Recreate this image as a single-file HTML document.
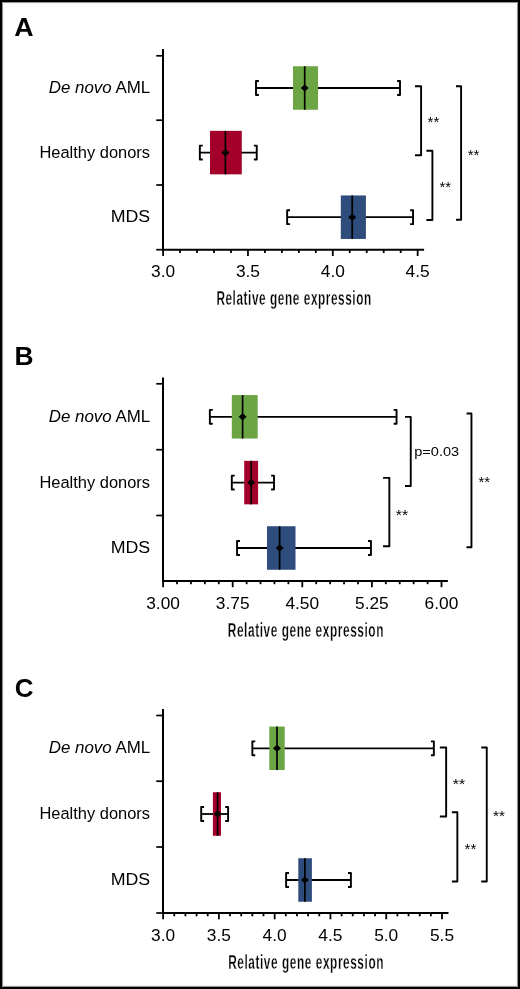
<!DOCTYPE html>
<html><head><meta charset="utf-8"><style>
html,body{margin:0;padding:0;background:#fff;}
#fig{position:relative;width:516px;height:985px;border:2px solid #000;overflow:hidden;background:#fff;box-shadow:inset 0 0 0 1px #979797,inset 0 0 0 2px #f2f2f2;}
svg{position:absolute;left:-2px;top:-2px;will-change:transform;}
text{font-family:"Liberation Sans", sans-serif;fill:#000;}
</style></head><body>
<div id="fig">
<svg width="520" height="989" viewBox="0 0 520 989">
<text x="14.33" y="36.30" font-size="26.3" textLength="19.29" lengthAdjust="spacingAndGlyphs" xml:space="preserve"><tspan font-weight="bold">A</tspan></text>
<line x1="163.00" y1="49.05" x2="163.00" y2="250.70" stroke="#000" stroke-width="2" stroke-linecap="butt"/>
<line x1="156.25" y1="55.80" x2="163.00" y2="55.80" stroke="#000" stroke-width="1.7" stroke-linecap="butt"/>
<line x1="156.25" y1="120.20" x2="163.00" y2="120.20" stroke="#000" stroke-width="1.7" stroke-linecap="butt"/>
<line x1="156.25" y1="185.00" x2="163.00" y2="185.00" stroke="#000" stroke-width="1.7" stroke-linecap="butt"/>
<line x1="156.25" y1="249.70" x2="163.00" y2="249.70" stroke="#000" stroke-width="1.7" stroke-linecap="butt"/>
<line x1="162.00" y1="249.70" x2="424.10" y2="249.70" stroke="#000" stroke-width="2" stroke-linecap="butt"/>
<line x1="163.10" y1="249.70" x2="163.10" y2="256.00" stroke="#000" stroke-width="1.8" stroke-linecap="butt"/>
<line x1="180.07" y1="249.70" x2="180.07" y2="253.00" stroke="#000" stroke-width="1.8" stroke-linecap="butt"/>
<line x1="197.04" y1="249.70" x2="197.04" y2="253.00" stroke="#000" stroke-width="1.8" stroke-linecap="butt"/>
<line x1="214.01" y1="249.70" x2="214.01" y2="253.00" stroke="#000" stroke-width="1.8" stroke-linecap="butt"/>
<line x1="230.98" y1="249.70" x2="230.98" y2="253.00" stroke="#000" stroke-width="1.8" stroke-linecap="butt"/>
<line x1="247.95" y1="249.70" x2="247.95" y2="256.00" stroke="#000" stroke-width="1.8" stroke-linecap="butt"/>
<line x1="264.92" y1="249.70" x2="264.92" y2="253.00" stroke="#000" stroke-width="1.8" stroke-linecap="butt"/>
<line x1="281.89" y1="249.70" x2="281.89" y2="253.00" stroke="#000" stroke-width="1.8" stroke-linecap="butt"/>
<line x1="298.86" y1="249.70" x2="298.86" y2="253.00" stroke="#000" stroke-width="1.8" stroke-linecap="butt"/>
<line x1="315.83" y1="249.70" x2="315.83" y2="253.00" stroke="#000" stroke-width="1.8" stroke-linecap="butt"/>
<line x1="332.80" y1="249.70" x2="332.80" y2="256.00" stroke="#000" stroke-width="1.8" stroke-linecap="butt"/>
<line x1="349.77" y1="249.70" x2="349.77" y2="253.00" stroke="#000" stroke-width="1.8" stroke-linecap="butt"/>
<line x1="366.74" y1="249.70" x2="366.74" y2="253.00" stroke="#000" stroke-width="1.8" stroke-linecap="butt"/>
<line x1="383.71" y1="249.70" x2="383.71" y2="253.00" stroke="#000" stroke-width="1.8" stroke-linecap="butt"/>
<line x1="400.68" y1="249.70" x2="400.68" y2="253.00" stroke="#000" stroke-width="1.8" stroke-linecap="butt"/>
<line x1="417.65" y1="249.70" x2="417.65" y2="256.00" stroke="#000" stroke-width="1.8" stroke-linecap="butt"/>
<text x="151.05" y="277.10" font-size="16.2" textLength="24.10" lengthAdjust="spacingAndGlyphs">3.0</text>
<text x="235.90" y="277.10" font-size="16.2" textLength="24.10" lengthAdjust="spacingAndGlyphs">3.5</text>
<text x="320.75" y="277.10" font-size="16.2" textLength="24.10" lengthAdjust="spacingAndGlyphs">4.0</text>
<text x="405.60" y="277.10" font-size="16.2" textLength="24.10" lengthAdjust="spacingAndGlyphs">4.5</text>
<text x="48.69" y="93.00" font-size="16.8" textLength="101.58" lengthAdjust="spacingAndGlyphs" xml:space="preserve"><tspan font-style="italic">De novo</tspan><tspan> AML</tspan></text>
<text x="39.44" y="157.60" font-size="16.8" textLength="110.61" lengthAdjust="spacingAndGlyphs" xml:space="preserve"><tspan>Healthy donors</tspan></text>
<text x="110.73" y="222.20" font-size="16.8" textLength="39.51" lengthAdjust="spacingAndGlyphs" xml:space="preserve"><tspan>MDS</tspan></text>
<line x1="256.00" y1="88.00" x2="400.00" y2="88.00" stroke="#000" stroke-width="1.8" stroke-linecap="butt"/>
<path d="M258.90,81.05 H256.00 V94.95 H258.90" fill="none" stroke="#000" stroke-width="1.9" stroke-linejoin="round"/>
<path d="M397.10,81.05 H400.00 V94.95 H397.10" fill="none" stroke="#000" stroke-width="1.9" stroke-linejoin="round"/>
<rect x="293.00" y="66.25" width="25.00" height="43.50" fill="#6ca644"/>
<line x1="304.70" y1="66.25" x2="304.70" y2="109.75" stroke="#000" stroke-width="1.7" stroke-linecap="butt"/>
<polygon points="300.70,88.00 304.70,84.40 308.70,88.00 304.70,91.60" fill="#000"/>
<line x1="199.85" y1="152.60" x2="256.75" y2="152.60" stroke="#000" stroke-width="1.8" stroke-linecap="butt"/>
<path d="M202.75,145.65 H199.85 V159.55 H202.75" fill="none" stroke="#000" stroke-width="1.9" stroke-linejoin="round"/>
<path d="M253.85,145.65 H256.75 V159.55 H253.85" fill="none" stroke="#000" stroke-width="1.9" stroke-linejoin="round"/>
<rect x="210.00" y="130.85" width="31.80" height="43.50" fill="#a2002a"/>
<line x1="225.40" y1="130.85" x2="225.40" y2="174.35" stroke="#000" stroke-width="1.7" stroke-linecap="butt"/>
<polygon points="221.40,152.60 225.40,149.00 229.40,152.60 225.40,156.20" fill="#000"/>
<line x1="287.15" y1="217.20" x2="413.05" y2="217.20" stroke="#000" stroke-width="1.8" stroke-linecap="butt"/>
<path d="M290.05,210.25 H287.15 V224.15 H290.05" fill="none" stroke="#000" stroke-width="1.9" stroke-linejoin="round"/>
<path d="M410.15,210.25 H413.05 V224.15 H410.15" fill="none" stroke="#000" stroke-width="1.9" stroke-linejoin="round"/>
<rect x="340.80" y="195.45" width="25.10" height="43.50" fill="#2e4c7c"/>
<line x1="352.20" y1="195.45" x2="352.20" y2="238.95" stroke="#000" stroke-width="1.7" stroke-linecap="butt"/>
<polygon points="348.20,217.20 352.20,213.60 356.20,217.20 352.20,220.80" fill="#000"/>
<path d="M415.00,86.25 H421.10 V155.20 H415.00" fill="none" stroke="#000" stroke-width="1.9" stroke-linejoin="round"/>
<text x="427.54" y="127.43" font-size="14.5" textLength="11.70" lengthAdjust="spacingAndGlyphs" xml:space="preserve"><tspan>**</tspan></text>
<path d="M426.40,150.80 H432.40 V220.00 H426.40" fill="none" stroke="#000" stroke-width="1.9" stroke-linejoin="round"/>
<text x="439.54" y="192.23" font-size="14.5" textLength="11.60" lengthAdjust="spacingAndGlyphs" xml:space="preserve"><tspan>**</tspan></text>
<path d="M456.00,86.25 H461.10 V219.80 H456.00" fill="none" stroke="#000" stroke-width="1.9" stroke-linejoin="round"/>
<text x="467.74" y="160.03" font-size="14.5" textLength="11.70" lengthAdjust="spacingAndGlyphs" xml:space="preserve"><tspan>**</tspan></text>
<text x="216.40" y="305.40" font-size="20.6" textLength="155.39" lengthAdjust="spacingAndGlyphs" xml:space="preserve" letter-spacing="1" stroke="#fff" stroke-width="0.3"><tspan font-weight="bold">Relative gene expression</tspan></text>
<text x="14.42" y="364.80" font-size="26.3" textLength="19.06" lengthAdjust="spacingAndGlyphs" xml:space="preserve"><tspan font-weight="bold">B</tspan></text>
<line x1="163.00" y1="377.40" x2="163.00" y2="581.90" stroke="#000" stroke-width="2" stroke-linecap="butt"/>
<line x1="156.25" y1="383.80" x2="163.00" y2="383.80" stroke="#000" stroke-width="1.7" stroke-linecap="butt"/>
<line x1="156.25" y1="449.70" x2="163.00" y2="449.70" stroke="#000" stroke-width="1.7" stroke-linecap="butt"/>
<line x1="156.25" y1="515.50" x2="163.00" y2="515.50" stroke="#000" stroke-width="1.7" stroke-linecap="butt"/>
<line x1="162.00" y1="580.90" x2="447.90" y2="580.90" stroke="#000" stroke-width="2" stroke-linecap="butt"/>
<line x1="163.10" y1="580.90" x2="163.10" y2="587.20" stroke="#000" stroke-width="1.8" stroke-linecap="butt"/>
<line x1="177.02" y1="580.90" x2="177.02" y2="584.20" stroke="#000" stroke-width="1.8" stroke-linecap="butt"/>
<line x1="190.94" y1="580.90" x2="190.94" y2="584.20" stroke="#000" stroke-width="1.8" stroke-linecap="butt"/>
<line x1="204.86" y1="580.90" x2="204.86" y2="584.20" stroke="#000" stroke-width="1.8" stroke-linecap="butt"/>
<line x1="218.78" y1="580.90" x2="218.78" y2="584.20" stroke="#000" stroke-width="1.8" stroke-linecap="butt"/>
<line x1="232.70" y1="580.90" x2="232.70" y2="587.20" stroke="#000" stroke-width="1.8" stroke-linecap="butt"/>
<line x1="246.62" y1="580.90" x2="246.62" y2="584.20" stroke="#000" stroke-width="1.8" stroke-linecap="butt"/>
<line x1="260.54" y1="580.90" x2="260.54" y2="584.20" stroke="#000" stroke-width="1.8" stroke-linecap="butt"/>
<line x1="274.46" y1="580.90" x2="274.46" y2="584.20" stroke="#000" stroke-width="1.8" stroke-linecap="butt"/>
<line x1="288.38" y1="580.90" x2="288.38" y2="584.20" stroke="#000" stroke-width="1.8" stroke-linecap="butt"/>
<line x1="302.30" y1="580.90" x2="302.30" y2="587.20" stroke="#000" stroke-width="1.8" stroke-linecap="butt"/>
<line x1="316.22" y1="580.90" x2="316.22" y2="584.20" stroke="#000" stroke-width="1.8" stroke-linecap="butt"/>
<line x1="330.14" y1="580.90" x2="330.14" y2="584.20" stroke="#000" stroke-width="1.8" stroke-linecap="butt"/>
<line x1="344.06" y1="580.90" x2="344.06" y2="584.20" stroke="#000" stroke-width="1.8" stroke-linecap="butt"/>
<line x1="357.98" y1="580.90" x2="357.98" y2="584.20" stroke="#000" stroke-width="1.8" stroke-linecap="butt"/>
<line x1="371.90" y1="580.90" x2="371.90" y2="587.20" stroke="#000" stroke-width="1.8" stroke-linecap="butt"/>
<line x1="385.82" y1="580.90" x2="385.82" y2="584.20" stroke="#000" stroke-width="1.8" stroke-linecap="butt"/>
<line x1="399.74" y1="580.90" x2="399.74" y2="584.20" stroke="#000" stroke-width="1.8" stroke-linecap="butt"/>
<line x1="413.66" y1="580.90" x2="413.66" y2="584.20" stroke="#000" stroke-width="1.8" stroke-linecap="butt"/>
<line x1="427.58" y1="580.90" x2="427.58" y2="584.20" stroke="#000" stroke-width="1.8" stroke-linecap="butt"/>
<line x1="441.50" y1="580.90" x2="441.50" y2="587.20" stroke="#000" stroke-width="1.8" stroke-linecap="butt"/>
<text x="146.23" y="609.00" font-size="16.2" textLength="33.74" lengthAdjust="spacingAndGlyphs">3.00</text>
<text x="215.83" y="609.00" font-size="16.2" textLength="33.74" lengthAdjust="spacingAndGlyphs">3.75</text>
<text x="285.43" y="609.00" font-size="16.2" textLength="33.74" lengthAdjust="spacingAndGlyphs">4.50</text>
<text x="355.03" y="609.00" font-size="16.2" textLength="33.74" lengthAdjust="spacingAndGlyphs">5.25</text>
<text x="424.63" y="609.00" font-size="16.2" textLength="33.74" lengthAdjust="spacingAndGlyphs">6.00</text>
<text x="48.69" y="421.80" font-size="16.8" textLength="101.58" lengthAdjust="spacingAndGlyphs" xml:space="preserve"><tspan font-style="italic">De novo</tspan><tspan> AML</tspan></text>
<text x="39.44" y="487.60" font-size="16.8" textLength="110.61" lengthAdjust="spacingAndGlyphs" xml:space="preserve"><tspan>Healthy donors</tspan></text>
<text x="110.73" y="553.00" font-size="16.8" textLength="39.51" lengthAdjust="spacingAndGlyphs" xml:space="preserve"><tspan>MDS</tspan></text>
<line x1="209.85" y1="416.80" x2="396.55" y2="416.80" stroke="#000" stroke-width="1.8" stroke-linecap="butt"/>
<path d="M212.75,409.85 H209.85 V423.75 H212.75" fill="none" stroke="#000" stroke-width="1.9" stroke-linejoin="round"/>
<path d="M393.65,409.85 H396.55 V423.75 H393.65" fill="none" stroke="#000" stroke-width="1.9" stroke-linejoin="round"/>
<rect x="231.80" y="395.05" width="25.90" height="43.50" fill="#6ca644"/>
<line x1="242.60" y1="395.05" x2="242.60" y2="438.55" stroke="#000" stroke-width="1.7" stroke-linecap="butt"/>
<polygon points="238.60,416.80 242.60,413.20 246.60,416.80 242.60,420.40" fill="#000"/>
<line x1="231.80" y1="482.60" x2="274.00" y2="482.60" stroke="#000" stroke-width="1.8" stroke-linecap="butt"/>
<path d="M234.70,475.65 H231.80 V489.55 H234.70" fill="none" stroke="#000" stroke-width="1.9" stroke-linejoin="round"/>
<path d="M271.10,475.65 H274.00 V489.55 H271.10" fill="none" stroke="#000" stroke-width="1.9" stroke-linejoin="round"/>
<rect x="244.20" y="460.85" width="13.90" height="43.50" fill="#a2002a"/>
<line x1="251.20" y1="460.85" x2="251.20" y2="504.35" stroke="#000" stroke-width="1.7" stroke-linecap="butt"/>
<polygon points="247.20,482.60 251.20,479.00 255.20,482.60 251.20,486.20" fill="#000"/>
<line x1="237.05" y1="548.00" x2="370.95" y2="548.00" stroke="#000" stroke-width="1.8" stroke-linecap="butt"/>
<path d="M239.95,541.05 H237.05 V554.95 H239.95" fill="none" stroke="#000" stroke-width="1.9" stroke-linejoin="round"/>
<path d="M368.05,541.05 H370.95 V554.95 H368.05" fill="none" stroke="#000" stroke-width="1.9" stroke-linejoin="round"/>
<rect x="267.00" y="526.25" width="28.50" height="43.50" fill="#2e4c7c"/>
<line x1="279.60" y1="526.25" x2="279.60" y2="569.75" stroke="#000" stroke-width="1.7" stroke-linecap="butt"/>
<polygon points="275.60,548.00 279.60,544.40 283.60,548.00 279.60,551.60" fill="#000"/>
<path d="M405.00,416.90 H410.75 V486.00 H405.00" fill="none" stroke="#000" stroke-width="1.9" stroke-linejoin="round"/>
<text x="414.25" y="456.20" font-size="13.2" textLength="44.89" lengthAdjust="spacingAndGlyphs" xml:space="preserve"><tspan>p=0.03</tspan></text>
<path d="M383.05,477.90 H389.35 V546.30 H383.05" fill="none" stroke="#000" stroke-width="1.9" stroke-linejoin="round"/>
<text x="395.72" y="519.83" font-size="14.5" textLength="12.33" lengthAdjust="spacingAndGlyphs" xml:space="preserve"><tspan>**</tspan></text>
<path d="M466.55,413.50 H471.45 V547.30 H466.55" fill="none" stroke="#000" stroke-width="1.9" stroke-linejoin="round"/>
<text x="478.54" y="487.23" font-size="14.5" textLength="11.49" lengthAdjust="spacingAndGlyphs" xml:space="preserve"><tspan>**</tspan></text>
<text x="227.80" y="636.80" font-size="20.6" textLength="156.20" lengthAdjust="spacingAndGlyphs" xml:space="preserve" letter-spacing="1" stroke="#fff" stroke-width="0.3"><tspan font-weight="bold">Relative gene expression</tspan></text>
<text x="14.86" y="696.60" font-size="26.3" textLength="18.74" lengthAdjust="spacingAndGlyphs" xml:space="preserve"><tspan font-weight="bold">C</tspan></text>
<line x1="163.00" y1="709.10" x2="163.00" y2="914.00" stroke="#000" stroke-width="2" stroke-linecap="butt"/>
<line x1="156.25" y1="715.50" x2="163.00" y2="715.50" stroke="#000" stroke-width="1.7" stroke-linecap="butt"/>
<line x1="156.25" y1="781.20" x2="163.00" y2="781.20" stroke="#000" stroke-width="1.7" stroke-linecap="butt"/>
<line x1="156.25" y1="847.00" x2="163.00" y2="847.00" stroke="#000" stroke-width="1.7" stroke-linecap="butt"/>
<line x1="156.25" y1="913.00" x2="163.00" y2="913.00" stroke="#000" stroke-width="1.7" stroke-linecap="butt"/>
<line x1="162.00" y1="913.00" x2="448.50" y2="913.00" stroke="#000" stroke-width="2" stroke-linecap="butt"/>
<line x1="163.10" y1="913.00" x2="163.10" y2="919.30" stroke="#000" stroke-width="1.8" stroke-linecap="butt"/>
<line x1="174.26" y1="913.00" x2="174.26" y2="916.30" stroke="#000" stroke-width="1.8" stroke-linecap="butt"/>
<line x1="185.41" y1="913.00" x2="185.41" y2="916.30" stroke="#000" stroke-width="1.8" stroke-linecap="butt"/>
<line x1="196.57" y1="913.00" x2="196.57" y2="916.30" stroke="#000" stroke-width="1.8" stroke-linecap="butt"/>
<line x1="207.72" y1="913.00" x2="207.72" y2="916.30" stroke="#000" stroke-width="1.8" stroke-linecap="butt"/>
<line x1="218.88" y1="913.00" x2="218.88" y2="919.30" stroke="#000" stroke-width="1.8" stroke-linecap="butt"/>
<line x1="230.04" y1="913.00" x2="230.04" y2="916.30" stroke="#000" stroke-width="1.8" stroke-linecap="butt"/>
<line x1="241.19" y1="913.00" x2="241.19" y2="916.30" stroke="#000" stroke-width="1.8" stroke-linecap="butt"/>
<line x1="252.35" y1="913.00" x2="252.35" y2="916.30" stroke="#000" stroke-width="1.8" stroke-linecap="butt"/>
<line x1="263.50" y1="913.00" x2="263.50" y2="916.30" stroke="#000" stroke-width="1.8" stroke-linecap="butt"/>
<line x1="274.66" y1="913.00" x2="274.66" y2="919.30" stroke="#000" stroke-width="1.8" stroke-linecap="butt"/>
<line x1="285.82" y1="913.00" x2="285.82" y2="916.30" stroke="#000" stroke-width="1.8" stroke-linecap="butt"/>
<line x1="296.97" y1="913.00" x2="296.97" y2="916.30" stroke="#000" stroke-width="1.8" stroke-linecap="butt"/>
<line x1="308.13" y1="913.00" x2="308.13" y2="916.30" stroke="#000" stroke-width="1.8" stroke-linecap="butt"/>
<line x1="319.28" y1="913.00" x2="319.28" y2="916.30" stroke="#000" stroke-width="1.8" stroke-linecap="butt"/>
<line x1="330.44" y1="913.00" x2="330.44" y2="919.30" stroke="#000" stroke-width="1.8" stroke-linecap="butt"/>
<line x1="341.60" y1="913.00" x2="341.60" y2="916.30" stroke="#000" stroke-width="1.8" stroke-linecap="butt"/>
<line x1="352.75" y1="913.00" x2="352.75" y2="916.30" stroke="#000" stroke-width="1.8" stroke-linecap="butt"/>
<line x1="363.91" y1="913.00" x2="363.91" y2="916.30" stroke="#000" stroke-width="1.8" stroke-linecap="butt"/>
<line x1="375.06" y1="913.00" x2="375.06" y2="916.30" stroke="#000" stroke-width="1.8" stroke-linecap="butt"/>
<line x1="386.22" y1="913.00" x2="386.22" y2="919.30" stroke="#000" stroke-width="1.8" stroke-linecap="butt"/>
<line x1="397.38" y1="913.00" x2="397.38" y2="916.30" stroke="#000" stroke-width="1.8" stroke-linecap="butt"/>
<line x1="408.53" y1="913.00" x2="408.53" y2="916.30" stroke="#000" stroke-width="1.8" stroke-linecap="butt"/>
<line x1="419.69" y1="913.00" x2="419.69" y2="916.30" stroke="#000" stroke-width="1.8" stroke-linecap="butt"/>
<line x1="430.84" y1="913.00" x2="430.84" y2="916.30" stroke="#000" stroke-width="1.8" stroke-linecap="butt"/>
<line x1="442.00" y1="913.00" x2="442.00" y2="919.30" stroke="#000" stroke-width="1.8" stroke-linecap="butt"/>
<text x="151.05" y="940.80" font-size="16.2" textLength="24.10" lengthAdjust="spacingAndGlyphs">3.0</text>
<text x="206.83" y="940.80" font-size="16.2" textLength="24.10" lengthAdjust="spacingAndGlyphs">3.5</text>
<text x="262.61" y="940.80" font-size="16.2" textLength="24.10" lengthAdjust="spacingAndGlyphs">4.0</text>
<text x="318.39" y="940.80" font-size="16.2" textLength="24.10" lengthAdjust="spacingAndGlyphs">4.5</text>
<text x="374.17" y="940.80" font-size="16.2" textLength="24.10" lengthAdjust="spacingAndGlyphs">5.0</text>
<text x="429.95" y="940.80" font-size="16.2" textLength="24.10" lengthAdjust="spacingAndGlyphs">5.5</text>
<text x="48.69" y="753.30" font-size="16.8" textLength="101.58" lengthAdjust="spacingAndGlyphs" xml:space="preserve"><tspan font-style="italic">De novo</tspan><tspan> AML</tspan></text>
<text x="39.44" y="819.00" font-size="16.8" textLength="110.61" lengthAdjust="spacingAndGlyphs" xml:space="preserve"><tspan>Healthy donors</tspan></text>
<text x="110.73" y="885.00" font-size="16.8" textLength="39.51" lengthAdjust="spacingAndGlyphs" xml:space="preserve"><tspan>MDS</tspan></text>
<line x1="252.35" y1="748.30" x2="433.85" y2="748.30" stroke="#000" stroke-width="1.8" stroke-linecap="butt"/>
<path d="M255.25,741.35 H252.35 V755.25 H255.25" fill="none" stroke="#000" stroke-width="1.9" stroke-linejoin="round"/>
<path d="M430.95,741.35 H433.85 V755.25 H430.95" fill="none" stroke="#000" stroke-width="1.9" stroke-linejoin="round"/>
<rect x="269.30" y="726.55" width="15.40" height="43.50" fill="#6ca644"/>
<line x1="277.00" y1="726.55" x2="277.00" y2="770.05" stroke="#000" stroke-width="1.7" stroke-linecap="butt"/>
<polygon points="273.00,748.30 277.00,744.70 281.00,748.30 277.00,751.90" fill="#000"/>
<line x1="201.20" y1="814.00" x2="228.10" y2="814.00" stroke="#000" stroke-width="1.8" stroke-linecap="butt"/>
<path d="M204.10,807.05 H201.20 V820.95 H204.10" fill="none" stroke="#000" stroke-width="1.9" stroke-linejoin="round"/>
<path d="M225.20,807.05 H228.10 V820.95 H225.20" fill="none" stroke="#000" stroke-width="1.9" stroke-linejoin="round"/>
<rect x="212.90" y="792.25" width="8.10" height="43.50" fill="#a2002a"/>
<line x1="217.60" y1="792.25" x2="217.60" y2="835.75" stroke="#000" stroke-width="1.7" stroke-linecap="butt"/>
<polygon points="213.60,814.00 217.60,810.40 221.60,814.00 217.60,817.60" fill="#000"/>
<line x1="286.10" y1="880.00" x2="350.90" y2="880.00" stroke="#000" stroke-width="1.8" stroke-linecap="butt"/>
<path d="M289.00,873.05 H286.10 V886.95 H289.00" fill="none" stroke="#000" stroke-width="1.9" stroke-linejoin="round"/>
<path d="M348.00,873.05 H350.90 V886.95 H348.00" fill="none" stroke="#000" stroke-width="1.9" stroke-linejoin="round"/>
<rect x="298.30" y="858.25" width="13.60" height="43.50" fill="#2e4c7c"/>
<line x1="304.90" y1="858.25" x2="304.90" y2="901.75" stroke="#000" stroke-width="1.7" stroke-linecap="butt"/>
<polygon points="300.90,880.00 304.90,876.40 308.90,880.00 304.90,883.60" fill="#000"/>
<path d="M439.85,747.50 H446.15 V816.50 H439.85" fill="none" stroke="#000" stroke-width="1.9" stroke-linejoin="round"/>
<text x="452.72" y="788.93" font-size="14.5" textLength="12.33" lengthAdjust="spacingAndGlyphs" xml:space="preserve"><tspan>**</tspan></text>
<path d="M451.85,812.30 H457.35 V881.50 H451.85" fill="none" stroke="#000" stroke-width="1.9" stroke-linejoin="round"/>
<text x="464.54" y="853.93" font-size="14.5" textLength="11.70" lengthAdjust="spacingAndGlyphs" xml:space="preserve"><tspan>**</tspan></text>
<path d="M481.25,747.50 H486.75 V881.50 H481.25" fill="none" stroke="#000" stroke-width="1.9" stroke-linejoin="round"/>
<text x="493.13" y="821.13" font-size="14.5" textLength="11.91" lengthAdjust="spacingAndGlyphs" xml:space="preserve"><tspan>**</tspan></text>
<text x="228.20" y="968.80" font-size="20.6" textLength="155.79" lengthAdjust="spacingAndGlyphs" xml:space="preserve" letter-spacing="1" stroke="#fff" stroke-width="0.3"><tspan font-weight="bold">Relative gene expression</tspan></text>
</svg>
</div>
</body></html>
